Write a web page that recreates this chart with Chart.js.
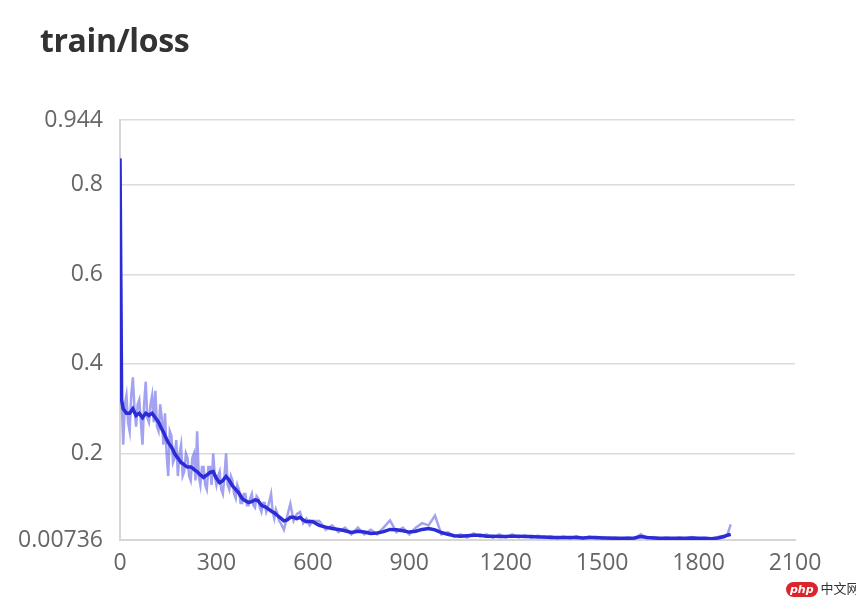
<!DOCTYPE html>
<html>
<head>
<meta charset="utf-8">
<script src="https://cdn.jsdelivr.net/npm/chart.js@4/dist/chart.umd.min.js"></script>
<style>
  html, body { margin: 0; padding: 0; background: #fff; }
  #wrap { position: relative; width: 856px; height: 602px; }
  #title { position: absolute; left: 40px; top: 18px; font-family: "Open Sans", sans-serif; font-weight: 700; font-size: 32px; color: #333; letter-spacing: -0.4px; }
  #mark { position: absolute; left: 786px; top: 578px; font-family: "Noto Sans CJK SC", sans-serif; font-size: 13px; color: #333; white-space: nowrap; }
  #mark .php { display: inline-block; background: #d9262c; color: #fff; font-style: italic; font-weight: 700; font-family: "DejaVu Sans", sans-serif; font-size: 11px; border-radius: 9px; padding: 0 4px; line-height: 15px; }
  canvas { position: absolute; left: 0; top: 0; }
</style>
</head>
<body>
<div id="wrap">
  <canvas id="c" width="856" height="602"></canvas>
  <div id="title">train/loss</div>
  <div id="mark"><span class="php">php</span> 中文网</div>
</div>
<script>
const steps = [
  0,5,10,15,20,25,30,35,40,45,50,55,60,65,70,75,80,85,90,95,
  100,105,110,115,120,125,130,135,140,145,150,155,160,165,170,175,180,185,190,195,
  200,205,210,215,220,225,230,235,240,245,250,255,260,265,270,275,280,285,290,295,
  300,305,310,315,320,325,330,335,340,345,350,355,360,365,370,375,380,385,390,395,
  400,405,410,415,420,425,430,435,440,445,450,455,460,465,470,475,480,485,490,495,
  500,
  510,520,530,540,550,560,570,580,590,600,
  620,640,660,680,700,720,740,760,780,800,
  820,840,860,880,900,920,940,960,980,1000,
  1020,1040,1060,1080,1100,1120,1140,1160,1180,1200,
  1220,1240,1260,1280,1300,1320,1340,1360,1380,1400,
  1420,1440,1460,1480,1500,1520,1540,1560,1580,1600,
  1620,1640,1660,1680,1700,1720,1740,1760,1780,1800,
  1820,1840,1860,1880,1890,1900
];
const rawLoss = [
  0.858,0.32,0.22,0.31,0.33,0.27,0.25,0.33,0.37,0.30,0.26,0.31,0.32,0.27,0.22,0.31,0.36,0.28,0.27,0.31,
  0.33,0.27,0.34,0.26,0.25,0.31,0.28,0.22,0.29,0.20,0.15,0.25,0.24,0.18,0.19,0.23,0.15,0.20,0.22,0.15,
  0.16,0.20,0.19,0.15,0.14,0.19,0.20,0.14,0.25,0.15,0.13,0.17,0.17,0.13,0.12,0.17,0.17,0.13,0.20,0.15,
  0.13,0.15,0.16,0.12,0.11,0.15,0.20,0.13,0.12,0.15,0.14,0.11,0.10,0.13,0.12,0.09,0.09,0.11,0.11,0.085,
  0.085,0.10,0.11,0.085,0.08,0.105,0.10,0.08,0.07,0.09,0.09,0.07,0.08,0.095,0.11,0.07,0.055,0.075,0.065,0.05,
  0.045,
  0.03,0.06,0.088,0.05,0.065,0.07,0.045,0.055,0.04,0.05,
  0.05,0.03,0.04,0.025,0.035,0.02,0.035,0.02,0.03,0.02,
  0.035,0.051,0.025,0.035,0.02,0.035,0.045,0.04,0.062,0.02,
  0.025,0.015,0.02,0.013,0.022,0.015,0.02,0.012,0.02,0.013,
  0.02,0.013,0.018,0.012,0.017,0.012,0.016,0.011,0.015,0.011,
  0.016,0.011,0.015,0.011,0.014,0.01,0.013,0.01,0.013,0.01,
  0.02,0.012,0.014,0.01,0.013,0.01,0.013,0.01,0.014,0.01,
  0.012,0.009,0.014,0.017,0.02,0.042
];
const smoothLoss = [
  0.858,0.32,0.30,0.295,0.29,0.29,0.29,0.295,0.30,0.292,0.285,0.288,0.29,0.285,0.28,0.285,0.29,0.288,0.285,0.288,
  0.29,0.285,0.28,0.275,0.27,0.262,0.255,0.248,0.24,0.232,0.225,0.22,0.215,0.208,0.20,0.195,0.19,0.185,0.18,0.178,
  0.175,0.172,0.17,0.17,0.17,0.168,0.165,0.162,0.16,0.156,0.152,0.15,0.147,0.15,0.152,0.155,0.158,0.159,0.16,0.152,
  0.145,0.14,0.135,0.137,0.14,0.145,0.149,0.145,0.14,0.134,0.128,0.124,0.12,0.116,0.112,0.106,0.10,0.097,0.095,0.093,
  0.091,0.092,0.093,0.095,0.097,0.096,0.095,0.09,0.085,0.083,0.082,0.08,0.077,0.075,0.072,0.07,0.068,0.065,0.062,0.059,
  0.056,
  0.05,0.052,0.058,0.058,0.055,0.058,0.052,0.048,0.049,0.048,
  0.04,0.036,0.033,0.031,0.028,0.024,0.027,0.025,0.022,0.023,
  0.026,0.031,0.03,0.028,0.025,0.027,0.031,0.033,0.03,0.024,
  0.02,0.017,0.016,0.017,0.018,0.018,0.016,0.016,0.015,0.015,
  0.016,0.016,0.015,0.015,0.014,0.014,0.013,0.013,0.013,0.013,
  0.013,0.012,0.013,0.013,0.012,0.012,0.011,0.011,0.011,0.012,
  0.015,0.013,0.012,0.011,0.011,0.011,0.011,0.011,0.012,0.011,
  0.011,0.01,0.012,0.015,0.018,0.02
];
const yTicks = [0.00736, 0.2, 0.4, 0.6, 0.8, 0.944];
const yTickLabels = ["0.00736", "0.2", "0.4", "0.6", "0.8", "0.944"];
const xTicks = [0, 300, 600, 900, 1200, 1500, 1800, 2100];
const xTickLabels = ["0", "300", "600", "900", "1200", "1500", "1800", "2100"];

const rawPts = steps.map((s, i) => ({ x: s, y: rawLoss[i] }));
const smoothPts = steps.map((s, i) => ({ x: s, y: smoothLoss[i] }));

const tickFont = { family: "'Open Sans', sans-serif", size: 23 };

new Chart(document.getElementById('c'), {
  type: 'line',
  data: {
    datasets: [
      { label: 'smoothed', data: smoothPts, borderColor: 'rgb(44,44,214)', borderWidth: 3.5, pointRadius: 0, tension: 0, order: 0 },
      { label: 'raw', data: rawPts, borderColor: 'rgba(70,70,225,0.5)', borderWidth: 2.5, pointRadius: 0, tension: 0, order: 1 }
    ]
  },
  options: {
    responsive: false,
    animation: false,
    layout: { padding: { top: 120, right: 61, bottom: 0, left: 0 } },
    plugins: { legend: { display: false }, tooltip: { enabled: false }, title: { display: false } },
    scales: {
      x: {
        type: 'linear', min: 0, max: 2100,
        afterBuildTicks: s => { s.ticks = xTicks.map(v => ({ value: v })); },
        afterFit: s => { s.height = 62; },
        grid: { display: false, drawTicks: false },
        border: { display: true, color: '#d6d6d6', width: 2 },
        ticks: {
          font: tickFont, color: '#666', padding: 10, maxRotation: 0, autoSkip: false,
          callback: (v) => { const i = xTicks.indexOf(v); return i >= 0 ? xTickLabels[i] : ''; }
        }
      },
      y: {
        type: 'linear', min: 0.00736, max: 0.944,
        afterBuildTicks: s => { s.ticks = yTicks.map(v => ({ value: v })); },
        afterFit: s => { s.width = 120; },
        grid: { color: '#dcdcdc', lineWidth: 1.5, drawTicks: false },
        border: { display: true, color: '#d6d6d6', width: 2 },
        ticks: {
          font: tickFont, color: '#666', padding: 17, autoSkip: false,
          callback: (v) => { const i = yTicks.indexOf(v); return i >= 0 ? yTickLabels[i] : ''; }
        }
      }
    }
  }
});
</script>
</body>
</html>
